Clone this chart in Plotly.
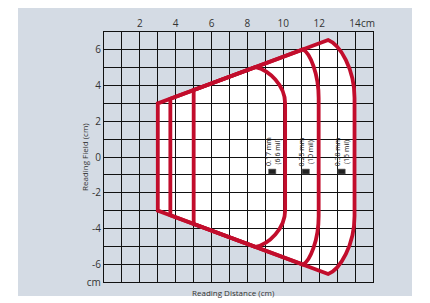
import plotly.graph_objects as go

# ---- data ----
x_ticks = list(range(0, 16))
x_labels = ["" if (v % 2 or v in (0, 15)) else str(v) for v in x_ticks]
y_ticks = list(range(-7, 8))
y_labels = []
for v in y_ticks:
    if v == -7:
        y_labels.append("cm")
    elif v % 2 == 0 and abs(v) <= 6:
        y_labels.append(str(v))
    else:
        y_labels.append("")

labels_mm = ["0.17 mm", "0.25 mm", "0.38 mm"]
labels_mil = ["(6.6 mil)", "(10 mil)", "(15 mil)"]
start_x = [5.0, 3.7, 3.0]      # near edge of reading field
apex_x = [8.45, 11.1, 12.5]    # where the field leaves the envelope
end_x = [10.1, 11.97, 13.97]   # far reading distance
end_y = [3.0, 3.3, 3.3]        # half height of the straight far edge

env_x = [3.0, 12.5]            # field envelope (upper line)
env_y = [3.0, 6.55]

RED = "#c20d2c"
PANEL = "#d4dbe4"

# page body has an 8px margin: figure is placed at (8, 8)
OFF = 8
W, H = 430 - OFF, 303 - OFF
L, T = 104 - OFF, 32 - OFF
PW, PH = 269, 250
R, B = W - L - PW, H - T - PH


def px_x(p):
    return (p - 104) / PW


def px_y(p):
    return (282 - p) / PH


def env(x):
    return env_y[0] + (x - env_x[0]) * (env_y[1] - env_y[0]) / (env_x[1] - env_x[0])


def field_path(i):
    xl = start_x[i]
    yl = env(xl)
    ax = apex_x[i]
    ay = env(ax)
    ex = end_x[i]
    ey = end_y[i]
    a = ex - ax
    b = ay - ey
    p1x, p1y = ax + 0.45 * a, ay - 0.08 * b
    p2x, p2y = ex, ey + 0.5 * b
    return (f"M {xl},{-yl} L {xl},{yl} L {ax},{ay} "
            f"C {p1x},{p1y} {p2x},{p2y} {ex},{ey} L {ex},{-ey} "
            f"C {p2x},{-p2y} {p1x},{-p1y} {ax},{-ay} Z")


fig = go.Figure()
fig.add_trace(go.Scatter(x=[None], y=[None], mode="markers", showlegend=False,
                         hoverinfo="skip"))

shapes = []
# grey panel behind the whole chart
shapes.append(dict(type="rect", xref="paper", yref="paper",
                   x0=px_x(18), x1=px_x(412), y0=px_y(296), y1=px_y(7),
                   fillcolor=PANEL, line=dict(width=0), layer="below"))
# white interior of the whole reading field (below the grid)
shapes.append(dict(type="path", xref="x", yref="y", path=field_path(2),
                   fillcolor="white", line=dict(width=0), layer="below"))
# red outlines
for i in range(3):
    shapes.append(dict(type="path", xref="x", yref="y", path=field_path(i),
                       fillcolor="rgba(0,0,0,0)",
                       line=dict(color=RED, width=3.8), layer="above"))
    # small barcode icon
    cx = end_x[i] - 0.72
    shapes.append(dict(type="rect", xref="x", yref="y",
                       x0=cx - 0.2, x1=cx + 0.2, y0=-0.95, y1=-0.68,
                       fillcolor="#222222", line=dict(width=0.6, color="#555"),
                       layer="above"))

annotations = []
for i in range(3):
    annotations.append(dict(x=end_x[i] - 0.1, y=-0.62, xref="x", yref="y",
                            text=f"{labels_mm[i]}<br>{labels_mil[i]}",
                            textangle=-90, showarrow=False,
                            xanchor="right", yanchor="bottom",
                            font=dict(size=7, color="#222", family="Open Sans"),
                            align="center"))

annotations.append(dict(x=px_x(368), y=px_y(23), xref="paper", yref="paper",
                        text="cm", showarrow=False, xanchor="center", yanchor="middle",
                        font=dict(size=10, color="#333", family="Open Sans")))
annotations.append(dict(x=px_x(84), y=0.5, xref="paper", yref="paper",
                        text="Reading Field (cm)", textangle=-90, showarrow=False,
                        xanchor="center", yanchor="middle",
                        font=dict(size=8, color="#333", family="Open Sans")))
annotations.append(dict(x=px_x(233), y=px_y(292), xref="paper", yref="paper",
                        text="Reading Distance (cm)", showarrow=False,
                        xanchor="center", yanchor="middle",
                        font=dict(size=8, color="#333", family="Open Sans")))

fig.update_layout(
    width=W, height=H,
    margin=dict(l=L, r=R, t=T, b=B, autoexpand=False),
    paper_bgcolor="white", plot_bgcolor=PANEL,
    showlegend=False,
    shapes=shapes, annotations=annotations,
    font=dict(family="Open Sans", color="#333"),
    xaxis=dict(range=[0, 15], side="top", tickmode="array", tickvals=x_ticks,
               ticktext=x_labels, showgrid=True, gridcolor="#111", gridwidth=1,
               zeroline=False, showline=True, mirror=True, linecolor="#111",
               linewidth=1.2, ticks="", tickfont=dict(size=10, color="#333"),
               fixedrange=True, automargin=False),
    yaxis=dict(range=[-7, 7], tickmode="array", tickvals=y_ticks,
               ticktext=y_labels, showgrid=True, gridcolor="#111", gridwidth=1,
               zeroline=False, showline=True, mirror=True, linecolor="#111",
               linewidth=1.2, ticks="", tickfont=dict(size=10, color="#333"),
               fixedrange=True, automargin=False),
)

fig.write_html("out.html")
